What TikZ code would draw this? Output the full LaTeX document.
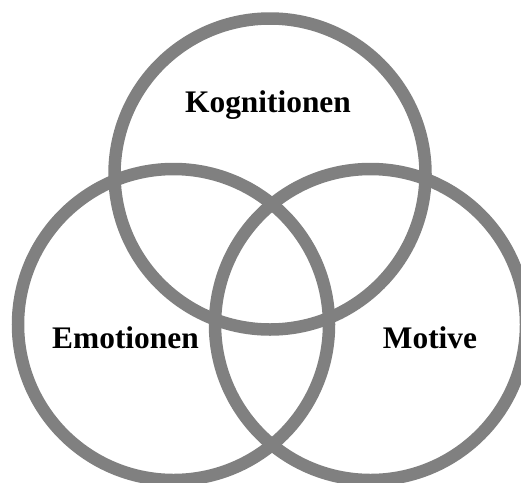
\documentclass[tikz,border=0pt]{standalone}
\usepackage{fontspec}
\setmainfont{Liberation Serif}
\usepackage{tikz}
\usepackage{xcolor}
\usetikzlibrary{positioning}

\begin{document}
\begin{tikzpicture}[x=1pt, y=-1pt,
        ring/.style={circle, draw=gray!100!white, line width=12.5pt, minimum size=311pt, inner sep=0pt},
        lab/.style={font=\fontsize{31.4}{36}\selectfont\bfseries, anchor=base, inner sep=0pt}
    ]
    \useasboundingbox (0,0) rectangle (521,482);

    % Drei Kreise (Venn)
    \node (kog) [ring] at (270, 174)   {};
    \node (emo) [ring] at (173.5, 324.5) {};
    \node (mot) [ring] at (370.5, 324.5) {};

    % Beschriftungen
    \node (kogtxt) [lab] at (268, 112)   {Kognitionen};
    \node (emotxt) [lab] at (125.5, 348) {Emotionen};
    \node (mottxt) [lab] at (430, 348)   {Motive};

\end{tikzpicture}
\end{document}
